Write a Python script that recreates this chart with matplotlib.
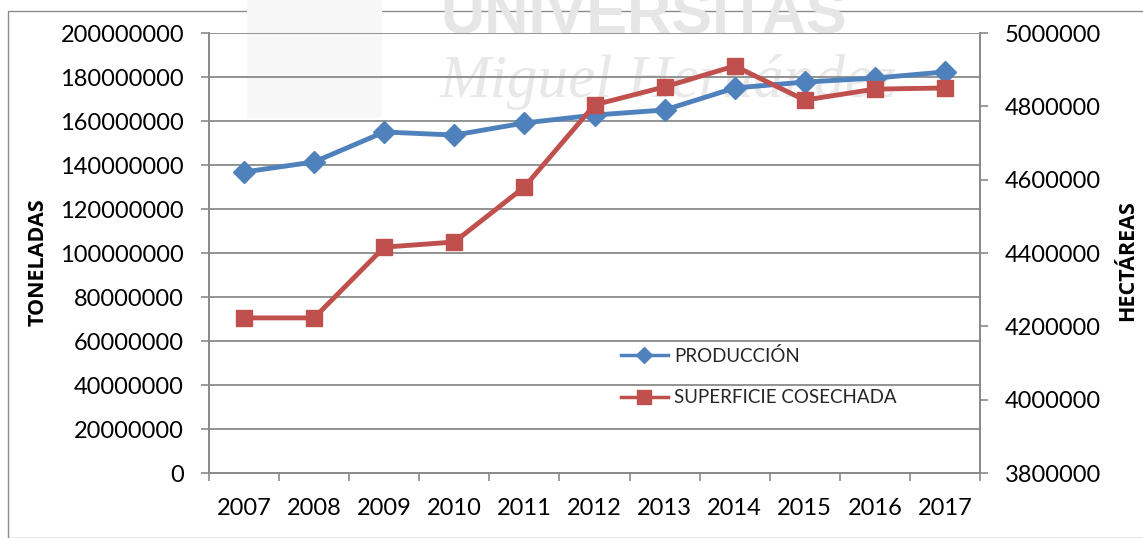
import matplotlib
matplotlib.use("Agg")
import matplotlib.pyplot as plt
from matplotlib.lines import Line2D
from matplotlib.patches import Rectangle

# --- Data ---
years = ["2007", "2008", "2009", "2010", "2011", "2012",
         "2013", "2014", "2015", "2016", "2017"]
produccion = [136800000, 141400000, 155000000, 153600000, 159100000, 162700000,
              165000000, 175000000, 177700000, 179500000, 182300000]
superficie = [4223000, 4223000, 4416000, 4430000, 4580000, 4804000,
              4853000, 4910000, 4817000, 4847000, 4850000]
left_ticks = list(range(0, 200000001, 20000000))
right_ticks = list(range(3800000, 5000001, 200000))

BLUE = "#4F81BD"
RED = "#C0504D"
GRID = "#8a8a8a"
FONT = "Lato"

plt.rcParams.update({
    "font.family": [FONT, "DejaVu Sans"],
    "font.size": 17,
})

W, H = 1143, 538
fig = plt.figure(figsize=(W / 100, H / 100), dpi=100)

# outer chart border
fig.patches.append(Rectangle((8 / W, 0), 1, 1 - 11 / H, transform=fig.transFigure,
                             fill=False, edgecolor=GRID, linewidth=1.0, zorder=-5))

# faint watermark from the source document
fig.text(440 / W, 1 - 33 / H, "UNIVERSITAS", fontsize=44, fontweight="bold",
         family="Liberation Sans", color="#e6e6e6", ha="left", va="baseline", zorder=-2)
fig.text(440 / W, 1 - 97 / H, "Miguel Hernández", fontsize=44, style="italic",
         family="Liberation Serif", color="#e8e8e8", ha="left", va="baseline", zorder=-2)
fig.patches.append(Rectangle((247 / W, 1 - 118 / H), 135 / W, 118 / H,
                             transform=fig.transFigure, facecolor="#f7f7f7",
                             edgecolor="none", zorder=-3))

ax = fig.add_axes([209 / W, 1 - 473 / H, (980 - 209) / W, (473 - 33) / H])
ax.set_facecolor("none")
ax2 = ax.twinx()
ax2.set_facecolor("none")

x = list(range(len(years)))

ax.plot(x, produccion, color=BLUE, linewidth=3.5, marker="D", markersize=11,
        zorder=3, clip_on=False)
ax2.plot(x, superficie, color=RED, linewidth=3.5, marker="s", markersize=12,
         zorder=3, clip_on=False)

ax.set_xlim(-0.5, len(years) - 0.5)
ax.set_ylim(0, 200000000)
ax2.set_ylim(3800000, 5000000)

ax.set_yticks(left_ticks)
ax.set_yticklabels([str(v) for v in left_ticks])
ax2.set_yticks(right_ticks)
ax2.set_yticklabels([str(v) for v in right_ticks])

# category boundaries as major ticks, year labels as minor ticks
ax.set_xticks([i - 0.5 for i in range(len(years) + 1)])
ax.set_xticklabels([])
ax.set_xticks(x, minor=True)
ax.set_xticklabels(years, minor=True)
ax.tick_params(axis="x", which="major", length=6, width=1.2, color=GRID, direction="out")
ax.tick_params(axis="x", which="minor", length=0, pad=18)

ax.tick_params(axis="y", length=6, width=1.2, color=GRID, pad=12)
ax2.tick_params(axis="y", length=6, width=1.2, color=GRID, pad=12)

ax.yaxis.grid(True, color=GRID, linewidth=1.3)
ax.set_axisbelow(True)

for a in (ax, ax2):
    a.spines["top"].set_visible(False)
    for s in ("left", "right", "bottom"):
        a.spines[s].set_color(GRID)
        a.spines[s].set_linewidth(1.3)

fig.text(38 / W, 1 - 262 / H, "TONELADAS", rotation=90, fontsize=15.5,
         fontweight="bold", family=["Open Sans", "DejaVu Sans"],
         ha="center", va="center")
fig.text(1128 / W, 1 - 261 / H, "HECTÁREAS", rotation=90, fontsize=15.5,
         fontweight="bold", family=["Open Sans", "DejaVu Sans"],
         ha="center", va="center")

handles = [
    Line2D([], [], color=BLUE, linewidth=2.5, marker="D", markersize=8),
    Line2D([], [], color=RED, linewidth=2.5, marker="s", markersize=10),
]
ax2.legend(handles, ["PRODUCCIÓN", "SUPERFICIE COSECHADA"],
           loc="upper left", bbox_to_anchor=(621 / W, 1 - 347 / H),
           bbox_transform=fig.transFigure, frameon=False, fontsize=13.5,
           handlelength=2.5, handletextpad=0.35, labelspacing=1.3,
           borderpad=0, borderaxespad=0, labelcolor="#262626")

fig.savefig("out.png", dpi=100)
